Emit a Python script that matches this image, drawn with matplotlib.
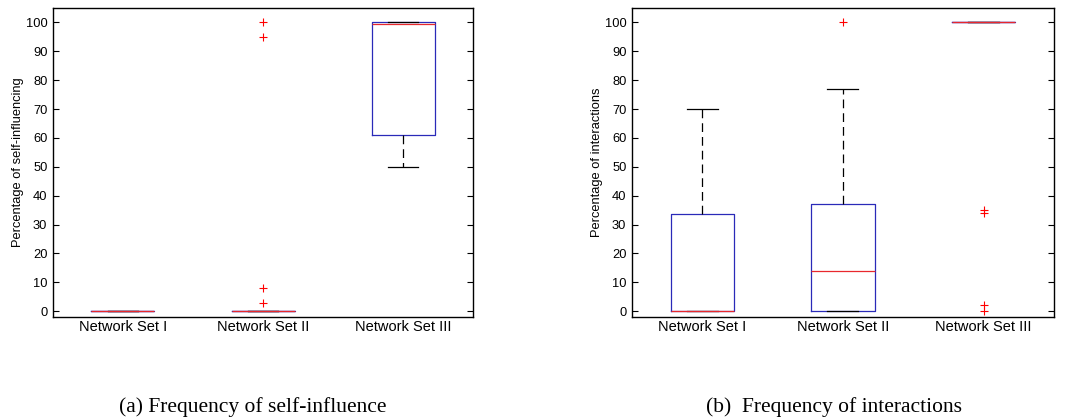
import matplotlib
matplotlib.use("Agg")
import matplotlib.pyplot as plt

# box statistics (percent)
labels = ["Network Set I", "Network Set II", "Network Set III"]

# (a) self-influence
self_q1 = [0, 0, 61]
self_med = [0, 0, 99.5]
self_q3 = [0, 0, 100]
self_wlo = [0, 0, 50]
self_whi = [0, 0, 100]
self_fliers = [[], [3, 8, 95, 100], []]

# (b) interactions
inter_q1 = [0, 0, 100]
inter_med = [0, 14, 100]
inter_q3 = [33.5, 37, 100]
inter_wlo = [0, 0, 100]
inter_whi = [70, 77, 100]
inter_fliers = [[], [100], [0, 2, 34, 35]]

plt.rcParams['font.family'] = ['Liberation Sans', 'DejaVu Sans']


def make_stats(q1, med, q3, wlo, whi, fliers):
	stats = []
	for i in range(len(q1)):
		stats.append(dict(q1=q1[i], med=med[i], q3=q3[i], whislo=wlo[i],
			whishi=whi[i], fliers=fliers[i], label=labels[i]))
	return stats


def draw_box(ax, stats, ylabel):
	ax.bxp(stats, positions=[1, 2, 3], widths=0.45, showfliers=True,
		boxprops=dict(color='#2a2ab8', linewidth=0.9),
		medianprops=dict(color='#e8282d', linewidth=0.9),
		whiskerprops=dict(color='black', linewidth=0.9, linestyle=(0, (7, 4))),
		capprops=dict(color='black', linewidth=0.9),
		capwidths=0.22,
		flierprops=dict(marker='+', markeredgecolor='red', markersize=6,
			markeredgewidth=0.8, linestyle='none'))
	ax.set_xlim(0.5, 3.5)
	ax.set_ylim(-2, 105)
	ax.set_yticks(range(0, 101, 10))
	ax.set_xticks([1, 2, 3])
	ax.set_xticklabels(labels, fontsize=10.5)
	ax.tick_params(axis='x', length=0, pad=2)
	ax.tick_params(axis='y', direction='in', length=4, right=True,
		labelsize=9.3, width=0.8, pad=4)
	for s in ax.spines.values():
		s.set_linewidth(1.0)
	ax.set_ylabel(ylabel, fontsize=9.3, labelpad=1)


fig = plt.figure(figsize=(10.77, 4.2), dpi=100)
ax1 = fig.add_axes([0.0492, 0.2452, 0.390, 0.736])
ax2 = fig.add_axes([0.5868, 0.2452, 0.3918, 0.736])

draw_box(ax1, make_stats(self_q1, self_med, self_q3, self_wlo, self_whi, self_fliers),
	'Percentage of self-influencing')
draw_box(ax2, make_stats(inter_q1, inter_med, inter_q3, inter_wlo, inter_whi, inter_fliers),
	'Percentage of interactions')

fig.text(253 / 1077, 1 - 407 / 420, '(a) Frequency of self-influence', ha='center',
	va='center', fontsize=15.5, family='Liberation Serif')
fig.text(834 / 1077, 1 - 407 / 420, '(b)  Frequency of interactions', ha='center',
	va='center', fontsize=15.5, family='Liberation Serif')

fig.savefig('out.png', dpi=100)
